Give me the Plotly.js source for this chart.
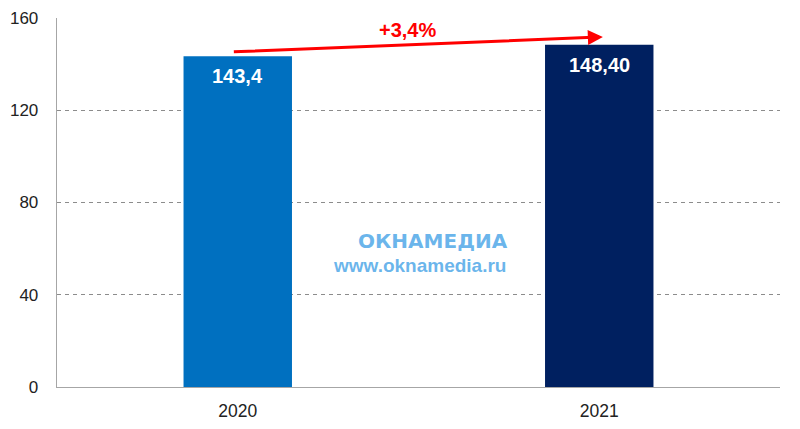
<!DOCTYPE html>
<html><head><meta charset="utf-8">
<script src="https://cdn.plot.ly/plotly-3.0.1.min.js"></script>
<style>html,body{margin:0;padding:0;background:#fff}#c{width:800px;height:429px}</style>
</head><body><div id="c"></div>
<script>
const years = ["2020", "2021"];
const values = [143.4, 148.4];
const valueLabels = ["143,4", "148,40"];
const growthLabel = "+3,4%";
const barColors = ["#0070c0", "#002060"];
const yTicks = [0, 40, 80, 120, 160];

const trace = {
  type: "bar", x: years, y: values, width: 0.3,
  marker: {color: barColors, line: {width: 0}},
  hoverinfo: "none"
};

const labelAnns = years.map((yr, i) => ({
  xref: "x", yref: "y", x: i, y: values[i], yshift: -20, text: valueLabels[i], showarrow: false,
  font: {size: 20, color: "#ffffff", weight: "bold"}
}));

const layout = {
  width: 800, height: 429,
  margin: {l: 57, r: 20, t: 18, b: 42},
  paper_bgcolor: "#fff", plot_bgcolor: "#fff",
  showlegend: false,
  font: {family: "Liberation Sans, Arial, sans-serif", size: 17, color: "#222"},
  xaxis: {type: "category", range: [-0.5, 1.5], showline: true, linecolor: "#a6a6a6", linewidth: 1.3, ticks: "", showgrid: false, ticklabelstandoff: 8, tickfont: {size: 17.5}},
  yaxis: {range: [0, 160], tickvals: yTicks, showline: true, linecolor: "#a6a6a6", linewidth: 1.3,
          showgrid: true, gridcolor: "#8c8c8c", griddash: "4px,4px", gridwidth: 1, zeroline: false,
          ticks: "", ticklabelstandoff: 14, tickfont: {size: 17}},
  annotations: labelAnns.concat([
    {xref: "x", yref: "y", axref: "x", ayref: "y", x: 1.01, y: values[1] + 3.4, ax: -0.015, ay: values[0] + 1.9,
     showarrow: true, arrowhead: 2, arrowsize: 1, arrowwidth: 3, arrowcolor: "#ff0000", text: ""},
    {xref: "paper", yref: "y", x: 0.485, y: values[1] + 6.3, text: growthLabel, showarrow: false,
     font: {size: 20, color: "#ff0000", weight: "bold"}},
    {xref: "paper", yref: "paper", x: 0.52, y: 0.396, xanchor: "center", yanchor: "middle", text: "ОКНАМЕДИА", showarrow: false,
     font: {family: "DejaVu Sans, sans-serif", size: 20, color: "rgba(80,168,232,0.85)", weight: "bold"}},
    {xref: "paper", yref: "paper", x: 0.502, y: 0.328, xanchor: "center", yanchor: "middle", text: "www.oknamedia.ru", showarrow: false,
     font: {size: 19, color: "rgba(80,168,232,0.85)", weight: "bold"}}
  ])
};
Plotly.newPlot("c", [trace], layout, {displayModeBar: false, staticPlot: true});
</script></body></html>
